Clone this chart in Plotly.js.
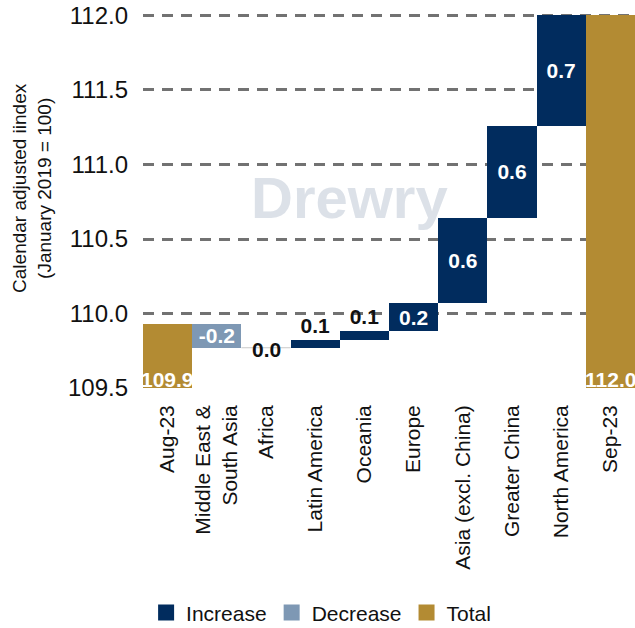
<!DOCTYPE html>
<html>
<head>
<meta charset="utf-8">
<script src="https://cdn.plot.ly/plotly-3.0.1.min.js"></script>
<style>html,body{margin:0;padding:0;background:#fff;}#chart{width:635px;height:628px;}</style>
</head>
<body>
<div id="chart"></div>
<script>
// ---- data ----
const categories = ['Aug-23', 'Middle East &<br>South Asia', 'Africa', 'Latin America', 'Oceania', 'Europe', 'Asia (excl. China)', 'Greater China', 'North America', 'Sep-23'];
const startTotal = 109.93;
const changeCategories = categories.slice(1, 9);
const changes = [-0.16, 0.0, 0.054, 0.056, 0.19, 0.57, 0.62, 0.74];
const legendNames = ['Increase', 'Decrease', 'Total'];
const yTickVals = [109.5, 110.0, 110.5, 111.0, 111.5, 112.0];
const yAxisTitle = 'Calendar adjusted iindex<br>(January 2019 = 100)';
const watermark = 'Drewry';

// ---- derived ----
const colors = {inc: '#012c5e', dec: '#7e98b4', tot: '#b38b33'};
const FONT = 'Liberation Sans, Arial, Helvetica, sans-serif';
const boldBlack = {family: FONT, size: 21, color: '#111111', weight: 'bold'};
const boldWhite = {family: FONT, size: 21, color: '#ffffff', weight: 'bold'};
let running = startTotal;
const inc = {x: [], base: [], y: [], text: [], pos: []};
const dec = {x: [], base: [], y: [], text: [], pos: []};
const shapes = [];
const annotations = [];
changes.forEach((v, i) => {
  const t = v >= 0 ? inc : dec;
  const cat = changeCategories[i];
  t.x.push(cat);
  t.base.push(running);
  t.y.push(v);
  if (v === 0) {
    // zero change: connector line with the label centred on it
    t.text.push('');
    t.pos.push('none');
    const idx = categories.indexOf(cat);
    shapes.push({type: 'line', xref: 'x', yref: 'y', layer: 'below',
      x0: idx - 0.5, x1: idx + 0.5, y0: running, y1: running,
      line: {color: '#c9c9c9', width: 1.2}});
    annotations.push({x: cat, y: running, xref: 'x', yref: 'y', text: v.toFixed(1),
      showarrow: false, font: boldBlack, yanchor: 'middle', yshift: -2});
  } else {
    t.text.push(v.toFixed(1));
    t.pos.push(Math.abs(v) < 0.1 ? 'outside' : 'inside');
  }
  running += v;
});
const endTotal = running;
const totalX = [categories[0], categories[categories.length - 1]];
const totalY = [startTotal, endTotal];

function barTrace(name, d, color) {
  return {
    type: 'bar', name: name, x: d.x, y: d.y, base: d.base, showlegend: false,
    marker: {color: color, line: {width: 0}},
    text: d.text, textposition: d.pos, constraintext: 'none',
    insidetextanchor: 'middle',
    insidetextfont: boldWhite,
    outsidetextfont: boldBlack,
    cliponaxis: false,
    hoverinfo: 'x+y'
  };
}
function legendTrace(name, color) {
  return {type: 'scatter', mode: 'markers', name: name, x: [null], y: [null],
          marker: {symbol: 'square', size: 18, color: color}, hoverinfo: 'skip'};
}

const traces = [
  barTrace(legendNames[0], inc, colors.inc),
  barTrace(legendNames[1], dec, colors.dec),
  {type: 'bar', name: legendNames[2], x: totalX, y: totalY, showlegend: false,
   marker: {color: colors.tot, line: {width: 0}}, hoverinfo: 'x+y'},
  legendTrace(legendNames[0], colors.inc),
  legendTrace(legendNames[1], colors.dec),
  legendTrace(legendNames[2], colors.tot)
];

totalX.forEach((c, i) => annotations.push({
  x: c, y: yTickVals[0], xref: 'x', yref: 'y', yanchor: 'bottom',
  text: totalY[i].toFixed(1), showarrow: false, font: boldWhite, yshift: -5
}));
annotations.push({
  xref: 'paper', yref: 'paper', x: 0.419, y: 0.51, text: watermark, showarrow: false,
  font: {family: FONT, size: 58, color: '#dce1e8', weight: 'bold'},
  xanchor: 'center', yanchor: 'middle'
});
annotations.push({
  xref: 'paper', yref: 'paper', x: -0.2256, y: 0.535, text: yAxisTitle, showarrow: false,
  textangle: -90, xanchor: 'center', yanchor: 'middle',
  font: {family: FONT, size: 19, color: '#111111'}
});

const layout = {
  width: 635, height: 628,
  margin: {l: 143, r: 0, t: 14, b: 240, pad: 0},
  paper_bgcolor: '#ffffff', plot_bgcolor: '#ffffff',
  font: {family: FONT, size: 21, color: '#111111'},
  barmode: 'overlay', bargap: 0,
  showlegend: true,
  legend: {orientation: 'h', xref: 'paper', x: 0.362, xanchor: 'center',
           yref: 'container', y: 0.024, yanchor: 'middle',
           font: {family: FONT, size: 21, color: '#111111'}, traceorder: 'normal'},
  xaxis: {type: 'category', categoryorder: 'array', categoryarray: categories,
          range: [-0.5, categories.length - 0.5], automargin: false,
          tickangle: -90, showgrid: false, showline: false, ticks: '', zeroline: false,
          ticklabelstandoff: 12, tickfont: {family: FONT, size: 21, color: '#111111'}},
  yaxis: {range: [yTickVals[0], yTickVals[yTickVals.length - 1] + 0.01], tickvals: yTickVals,
          tickformat: '.1f', showline: false, zeroline: false, ticks: '', automargin: false,
          gridcolor: '#727272', gridwidth: 3, griddash: '11px,8px',
          ticklabelstandoff: 14, tickfont: {family: FONT, size: 24, color: '#111111'}},
  shapes: shapes,
  annotations: annotations
};

Plotly.newPlot('chart', traces, layout, {displayModeBar: false, staticPlot: true});
</script>
</body>
</html>
